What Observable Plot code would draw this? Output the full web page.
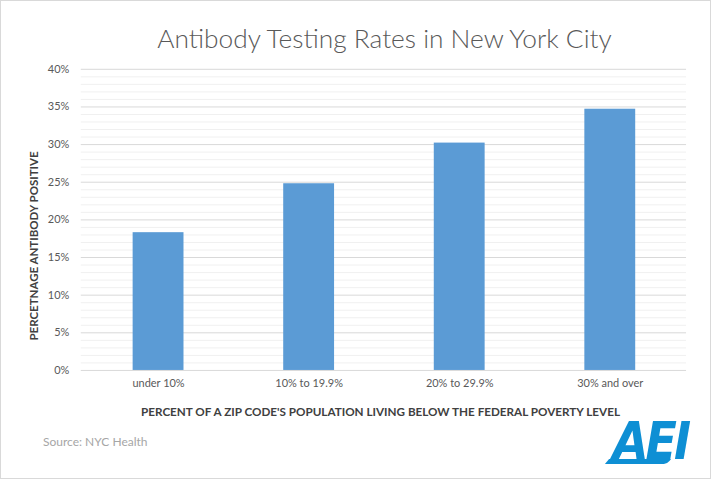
<!DOCTYPE html>
<html>
<head>
<meta charset="utf-8">
<script src="https://cdn.jsdelivr.net/npm/d3@7"></script>
<script src="https://cdn.jsdelivr.net/npm/@observablehq/plot@0.6"></script>
<style>
  html, body { margin: 0; padding: 0; background: #fff; }
  #card { position: relative; width: 711px; height: 479px; box-sizing: border-box; border: 1px solid #d9d9d9; background: #fff; font-family: Lato, "Open Sans", sans-serif; overflow: hidden; }
  #chart { position: absolute; left: 0; top: 0; }
  .title { position: absolute; top: 21px; left: 80px; width: 607px; text-align: center; font-size: 26.3px; color: #595959; font-weight: 300; }
  .ylab { position: absolute; left: 32px; top: 245px; transform: translate(-50%, -50%) rotate(-90deg); white-space: nowrap; font-size: 11.5px; font-weight: bold; color: #404040; }
  .xlab { position: absolute; top: 403px; left: 76px; width: 607px; text-align: center; font-size: 11.7px; font-weight: bold; color: #404040; white-space: nowrap; }
  .source { position: absolute; top: 433px; left: 42px; font-size: 12px; color: #a6a6a6; }
  .logo { position: absolute; left: 612px; top: 414px; font-size: 46px; font-weight: 900; font-style: italic; color: #0e8fd4; letter-spacing: -3px; font-family: "DejaVu Sans", sans-serif; line-height: 1; transform: scaleY(1.12); transform-origin: top left; }
  .swoosh { position: absolute; left: 606px; top: 458px; width: 62px; height: 5px; background: #0e8fd4; transform: skewX(-40deg); border-radius: 0 0 3px 0; }
</style>
</head>
<body>
<div id="card">
  <div id="chart"></div>
  <div class="title">Antibody Testing Rates in New York City</div>
  <div class="ylab">PERCETNAGE ANTIBODY POSITIVE</div>
  <div class="xlab">PERCENT OF A ZIP CODE'S POPULATION LIVING BELOW THE FEDERAL POVERTY LEVEL</div>
  <div class="source">Source: NYC Health</div>
  <div class="logo">AEI</div>
  <div class="swoosh"></div>
</div>
<script>
const categories = ["under 10%", "10% to 19.9%", "20% to 29.9%", "30% and over"];
const positiveRates = [0.183, 0.248, 0.302, 0.347];
const majorTicks = [0, 0.05, 0.10, 0.15, 0.20, 0.25, 0.30, 0.35, 0.40];
const minorTicks = [0.01,0.02,0.03,0.04,0.06,0.07,0.08,0.09,0.11,0.12,0.13,0.14,0.16,0.17,0.18,0.19,0.21,0.22,0.23,0.24,0.26,0.27,0.28,0.29,0.31,0.32,0.33,0.34,0.36,0.37,0.38,0.39];

const data = categories.map((c, i) => ({category: c, value: positiveRates[i]}));

const chart = Plot.plot({
  width: 711,
  height: 479,
  marginTop: 68,
  marginBottom: 109,
  marginLeft: 80,
  marginRight: 24,
  style: {fontFamily: "Lato, 'Open Sans', sans-serif", fontSize: "11px", color: "#595959", background: "transparent"},
  x: {domain: categories, paddingInner: 0.665, paddingOuter: 0.3325, label: null},
  y: {domain: [0, 0.40], label: null},
  marks: [
    Plot.ruleY(minorTicks, {stroke: "#f0f0f0", strokeWidth: 1}),
    Plot.ruleY(majorTicks, {stroke: "#d9d9d9", strokeWidth: 1}),
    Plot.barY(data, {x: "category", y: "value", fill: "#5b9bd5"}),
    Plot.axisX({tickSize: 0, tickPadding: 9, fontSize: 11, fill: "#595959"}),
    Plot.axisY({ticks: majorTicks, tickFormat: d3.format(".0%"), tickSize: 0, tickPadding: 12, fontSize: 11, fill: "#595959"})
  ]
});
document.getElementById("chart").appendChild(chart);
</script>
</body>
</html>
